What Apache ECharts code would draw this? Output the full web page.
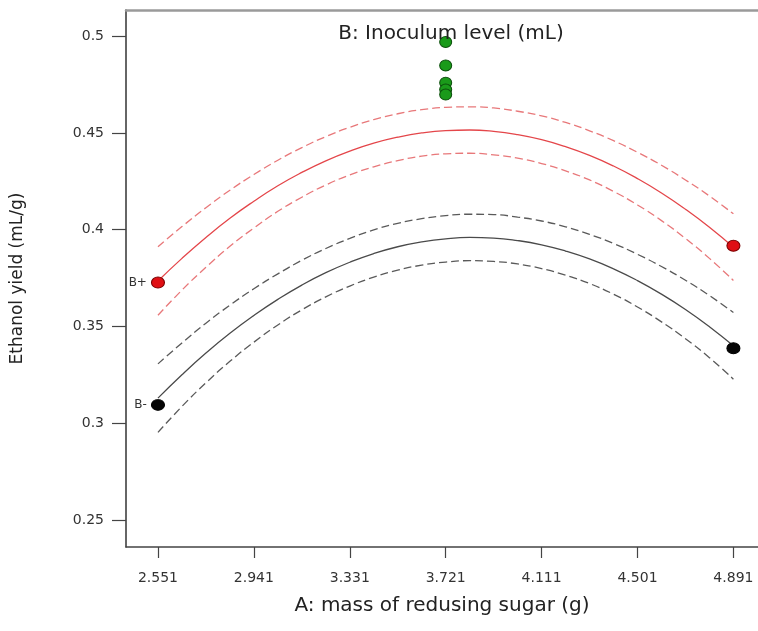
<!DOCTYPE html>
<html>
<head>
<meta charset="utf-8">
<script src="https://cdn.jsdelivr.net/npm/echarts@6/dist/echarts.min.js"></script>
<style>
  html, body { margin: 0; padding: 0; background: #fff; }
  #chart { width: 758px; height: 631px; }
</style>
</head>
<body>
<div id="chart"></div>
<script>
// Interaction plot: ethanol yield vs. mass of reducing sugar at two inoculum levels
const xTicks = [2.551, 2.941, 3.331, 3.721, 4.111, 4.501, 4.891];
const yTicks = [0.25, 0.3, 0.35, 0.4, 0.45, 0.5];

// Predicted response along A (B+ and B-), with 95% confidence bands
const curveX = [2.551, 2.6485, 2.746, 2.8435, 2.941, 3.0385, 3.136, 3.2335, 3.331, 3.4285, 3.526, 3.6235, 3.721,
                3.8185, 3.916, 4.0135, 4.111, 4.2085, 4.306, 4.4035, 4.501, 4.5985, 4.696, 4.7935, 4.891];
const highFit   = [0.3735, 0.3852, 0.3960, 0.4059, 0.4147, 0.4227, 0.4296, 0.4356, 0.4406, 0.4447, 0.4478, 0.4500, 0.4512,
                   0.4515, 0.4508, 0.4491, 0.4465, 0.4429, 0.4384, 0.4329, 0.4264, 0.4190, 0.4106, 0.4013, 0.3910];
const highUpper = [0.3912, 0.4016, 0.4114, 0.4204, 0.4285, 0.4359, 0.4424, 0.4481, 0.4529, 0.4569, 0.4599, 0.4620, 0.4632,
                   0.4635, 0.4629, 0.4612, 0.4588, 0.4554, 0.4511, 0.4460, 0.4400, 0.4333, 0.4257, 0.4174, 0.4082];
const highLower = [0.3558, 0.3688, 0.3806, 0.3914, 0.4009, 0.4095, 0.4168, 0.4231, 0.4283, 0.4325, 0.4357, 0.4380, 0.4392,
                   0.4395, 0.4387, 0.4370, 0.4342, 0.4304, 0.4257, 0.4198, 0.4128, 0.4047, 0.3955, 0.3852, 0.3738];
const lowFit    = [0.3130, 0.3251, 0.3363, 0.3465, 0.3557, 0.3640, 0.3714, 0.3778, 0.3832, 0.3877, 0.3912, 0.3937, 0.3953,
                   0.3960, 0.3957, 0.3944, 0.3922, 0.3890, 0.3849, 0.3798, 0.3737, 0.3667, 0.3588, 0.3499, 0.3400];
const lowUpper  = [0.3307, 0.3415, 0.3517, 0.3610, 0.3695, 0.3772, 0.3842, 0.3903, 0.3955, 0.3999, 0.4033, 0.4057, 0.4073,
                   0.4080, 0.4078, 0.4065, 0.4045, 0.4015, 0.3976, 0.3929, 0.3873, 0.3810, 0.3739, 0.3660, 0.3572];
const lowLower  = [0.2953, 0.3087, 0.3209, 0.3320, 0.3419, 0.3508, 0.3586, 0.3653, 0.3709, 0.3755, 0.3791, 0.3817, 0.3833,
                   0.3840, 0.3836, 0.3823, 0.3799, 0.3765, 0.3722, 0.3667, 0.3601, 0.3524, 0.3437, 0.3339, 0.3228];

// Design points
const designX = [2.551, 4.891];
const highObs = [0.3727, 0.3917];
const lowObs  = [0.3095, 0.3388];
const centerX = 3.721;
const centerObs = [0.4970, 0.4848, 0.4759, 0.4724, 0.4698];

const FONT = 'DejaVu Sans';
const pairs = (xs, ys) => ys.map((y, i) => [xs[i], y]);

const RED = '#e4464a';
const RED_DASH = '#e8787a';
const GREY = '#4a4a4a';
const GREY_DASH = '#5a5a5a';

function line(name, ys, color, dashed) {
  return {
    name, type: 'line', data: pairs(curveX, ys), smooth: true,
    showSymbol: false, silent: true, z: 2,
    lineStyle: { color, width: 1.3, type: dashed ? [8, 4] : 'solid' }
  };
}

function points(name, xs, ys, fill, border, size, tag) {
  return {
    name, type: 'scatter', z: 5, symbolSize: size,
    itemStyle: { color: fill, borderColor: border, borderWidth: 1, opacity: 1 },
    data: ys.map((y, i) => {
      const item = { value: [Array.isArray(xs) ? xs[i] : xs, y] };
      if (tag && i === 0) {
        item.label = {
          show: true, position: 'left', distance: 4, formatter: tag,
          fontFamily: FONT, fontSize: 12, color: '#333'
        };
      }
      return item;
    })
  };
}

const chart = echarts.init(document.getElementById('chart'));
chart.setOption({
  animation: false,
  backgroundColor: '#fff',
  title: {
    text: 'B: Inoculum level (mL)',
    left: 446, top: 19, textAlign: 'center',
    textStyle: { fontFamily: FONT, fontSize: 20, fontWeight: 'normal', color: '#222' }
  },
  grid: { left: 126, top: 10, right: 0, bottom: 84, outerBoundsMode: 'none' },
  xAxis: [{
    type: 'value', min: 2.421, max: 4.991,
    name: 'A: mass of redusing sugar (g)', nameLocation: 'middle', nameGap: 49,
    nameTextStyle: { fontFamily: FONT, fontSize: 20, color: '#222' },
    axisLine: { show: true, lineStyle: { color: '#444', width: 1.5 } },
    axisTick: { show: true, length: 11, customValues: xTicks, lineStyle: { color: '#444', width: 1.2 } },
    axisLabel: { customValues: xTicks, margin: 24, fontFamily: FONT, fontSize: 14, color: '#333' },
    splitLine: { show: false }
  }, {
    type: 'value', position: 'top', min: 2.421, max: 4.991,
    axisLine: { show: true, lineStyle: { color: '#9a9a9a', width: 2.5 } },
    axisTick: { show: false }, axisLabel: { show: false }, splitLine: { show: false }
  }],
  yAxis: {
    type: 'value', min: 0.2361, max: 0.5135,
    name: 'Ethanol yield (mL/g)', nameLocation: 'middle', nameGap: 100, nameRotate: 90,
    nameTextStyle: { fontFamily: FONT, fontSize: 17, color: '#222' },
    axisLine: { show: true, lineStyle: { color: '#333', width: 1.5 } },
    axisTick: { show: true, length: 14, customValues: yTicks, lineStyle: { color: '#444', width: 1.2 } },
    axisLabel: { customValues: yTicks, margin: 22, fontFamily: FONT, fontSize: 14, color: '#333' },
    splitLine: { show: false }
  },
  series: [
    line('B+ fit', highFit, RED, false),
    line('B+ upper', highUpper, RED_DASH, true),
    line('B+ lower', highLower, RED_DASH, true),
    line('B- fit', lowFit, GREY, false),
    line('B- upper', lowUpper, GREY_DASH, true),
    line('B- lower', lowLower, GREY_DASH, true),
    points('B+ observed', designX, highObs, '#e00f14', '#7a0000', [13, 11], 'B+'),
    points('B- observed', designX, lowObs, '#050505', '#000', [13, 11], 'B-'),
    points('Center points', centerX, centerObs, '#1a9a1a', '#0b4f0b', [12, 11], null)
  ]
});
</script>
</body>
</html>
